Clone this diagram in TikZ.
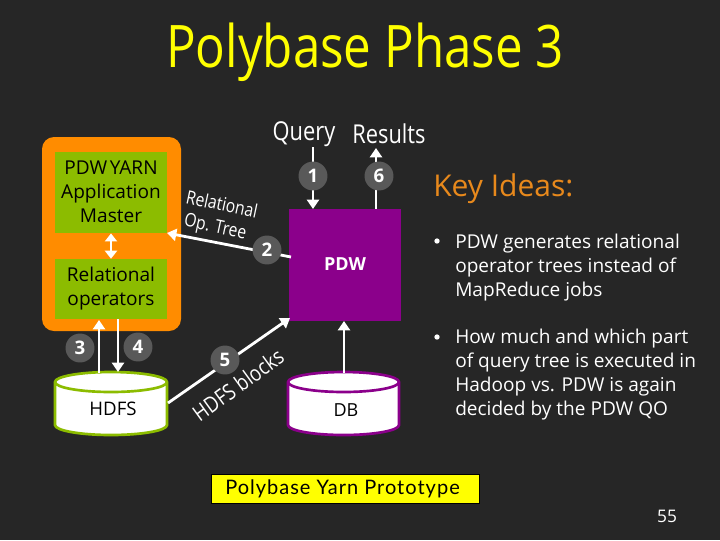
\documentclass[tikz,border=0pt]{standalone}
\usepackage{fontspec}
\setmainfont{Open Sans}
\newfontfamily\narrowf[FakeStretch=0.84]{Open Sans}
\newfontfamily\protof[LetterSpace=5]{Lato}
\usetikzlibrary{arrows.meta,shapes.geometric}
\definecolor{bg}{HTML}{262626}
\definecolor{orng}{HTML}{FF8C00}
\definecolor{keyc}{HTML}{E8891C}
\definecolor{grn}{HTML}{8CBC00}
\definecolor{purp}{HTML}{8B008B}
\definecolor{badge}{HTML}{595959}
\definecolor{ttl}{HTML}{FFFF00}
\tikzset{
 px/.style={x=0.75pt,y=-0.75pt},
 flow/.style={draw=white,line width=2.1pt,-{Triangle[length=7pt,width=9pt]}},
 flowb/.style={draw=white,line width=2.1pt,{Triangle[length=6pt,width=9pt]}-{Triangle[length=6pt,width=9pt]}},
 gbox/.style={fill=grn,text=black,align=center,font=\fontsize{14.3}{18}\selectfont,inner sep=0pt},
 badgec/.style={circle,fill=badge,minimum size=21.7pt,inner sep=0pt,text=white,font=\fontsize{14}{14}\bfseries\selectfont},
 lbl/.style={text=white,inner sep=0pt,font=\narrowf\fontsize{19.5}{20}\selectfont},
 bul/.style={text=white,align=left,anchor=north west,inner sep=0pt,font=\fontsize{14.3}{18}\selectfont},
 dot/.style={circle,fill=white,minimum size=4pt,inner sep=0pt},
}
\newcommand{\cyl}[5]{% x1,x2,ytop-center,ybottom,colour
 \fill[white,draw=#5,line width=2pt] (#1,#3) -- (#1,#4-10) arc[x radius={(#2-#1)/2},y radius=10,start angle=180,end angle=0] -- (#2,#3)
  arc[x radius={(#2-#1)/2},y radius=10,start angle=0,end angle=-180] -- cycle;
 \draw[#5,line width=2pt] (#1,#3) arc[x radius={(#2-#1)/2},y radius=10,start angle=180,end angle=0];
}
\begin{document}
\begin{tikzpicture}[px]
\useasboundingbox (0,0) rectangle (720,540);
\fill[bg] (0,0) rectangle (720,540);
\node[text=ttl,inner sep=0pt,font=\narrowf\fontsize{44}{46}\selectfont] (title) at (365,52) {Polybase Phase 3};
\fill[orng,rounded corners=9pt] (42,137) rectangle (181,331);
\node[gbox,minimum width=84pt,minimum height=61pt] (am) at (111,192.5) {\raisebox{1pt}{PDW\kern2pt YARN}\\\raisebox{1pt}{Application}\\\raisebox{1pt}{Master}};
\node[gbox,minimum width=84pt,minimum height=45pt] (rel) at (111,289) {\raisebox{-1pt}{Relational}\\\raisebox{-1pt}{operators}};
\draw[flowb] (am.south) -- (rel.north);
\node[fill=purp,minimum width=84pt,minimum height=84pt,inner sep=0pt,text=white,font=\fontsize{13.5}{16}\bfseries\selectfont] (pdw) at (345,265) {\raisebox{2pt}{PDW}};
\cyl{55}{167}{382}{435}{grn}
\node[text=black,inner sep=0pt,font=\fontsize{14}{16}\selectfont] (hdfs) at (113,409) {HDFS};
\cyl{288}{399}{382}{435}{purp}
\node[text=black,inner sep=0pt,font=\fontsize{13.5}{16}\selectfont] (db) at (346,410) {DB};
\coordinate (h3) at (99,373);
\coordinate (r3) at (99,320);
\coordinate (r4) at (118,319);
\coordinate (h4) at (118,372);
\draw[flow] (h3) -- (r3);
\draw[flow] (r4) -- (h4);
\node[badgec] (b3) at (80,348) {3};
\node[badgec] (b4) at (138,347) {4};
\node[lbl] (q) at (304,134) {Query};
\node[lbl] (res) at (389,134) {Results};
\coordinate (q1) at (313,147);
\coordinate (q2) at (313,209);
\coordinate (r1) at (376,209);
\coordinate (r2) at (376,148);
\draw[flow] (q1) -- (q2);
\draw[flow] (r1) -- (r2);
\node[badgec] (b1) at (313,176) {1};
\node[badgec] (b6) at (379,176) {6};
\coordinate (p2) at (291,257);
\coordinate (a2) at (167,233);
\draw[flow] (p2) -- (a2);
\node[badgec] (b2) at (267,250) {2};
\coordinate (h5) at (168,403);
\coordinate (p5) at (290,318);
\draw[flow] (h5) -- (p5);
\node[badgec] (b5) at (225,360) {5};
\coordinate (d1) at (344,373);
\coordinate (d2) at (344,321);
\draw[flow] (d1) -- (d2);
\node[text=white,inner sep=0pt,rotate=-12,font=\narrowf\fontsize{14}{14}\selectfont] (t1) at (222,204) {Relational};
\node[text=white,inner sep=0pt,rotate=-12,font=\narrowf\fontsize{14}{14}\selectfont] (t2) at (215,228) {Op. Tree};
\node[text=white,inner sep=0pt,rotate=36,font=\narrowf\fontsize{16.5}{17}\selectfont] (t3) at (238,385) {HDFS blocks};
\node[text=keyc,inner sep=0pt,anchor=west,font=\fontsize{22.5}{24}\selectfont] (key) at (433,189) {Key Ideas:};
\node[dot] (d1b) at (437,241) {};
\node[bul] (k1) at (455,234) {PDW generates relational\\operator trees instead of\\MapReduce jobs};
\node[dot] (d2b) at (437,337) {};
\node[bul] (k2) at (455,329) {How much and which part\\of query tree is executed in\\Hadoop vs. PDW is again\\decided by the PDW QO};
\node[fill=ttl,draw=black,line width=0.8pt,minimum width=201.5pt,minimum height=22pt,inner sep=0pt] (proto) at (345.5,489) {};
\node[text=black,anchor=west,inner sep=0pt,font=\protof\fontsize{15}{16}\selectfont] (protot) at (225,489) {Polybase Yarn Prototype};
\node[text=white,inner sep=0pt,font=\fontsize{13}{15}\selectfont] (num) at (667,516) {55};
\end{tikzpicture}
\end{document}
